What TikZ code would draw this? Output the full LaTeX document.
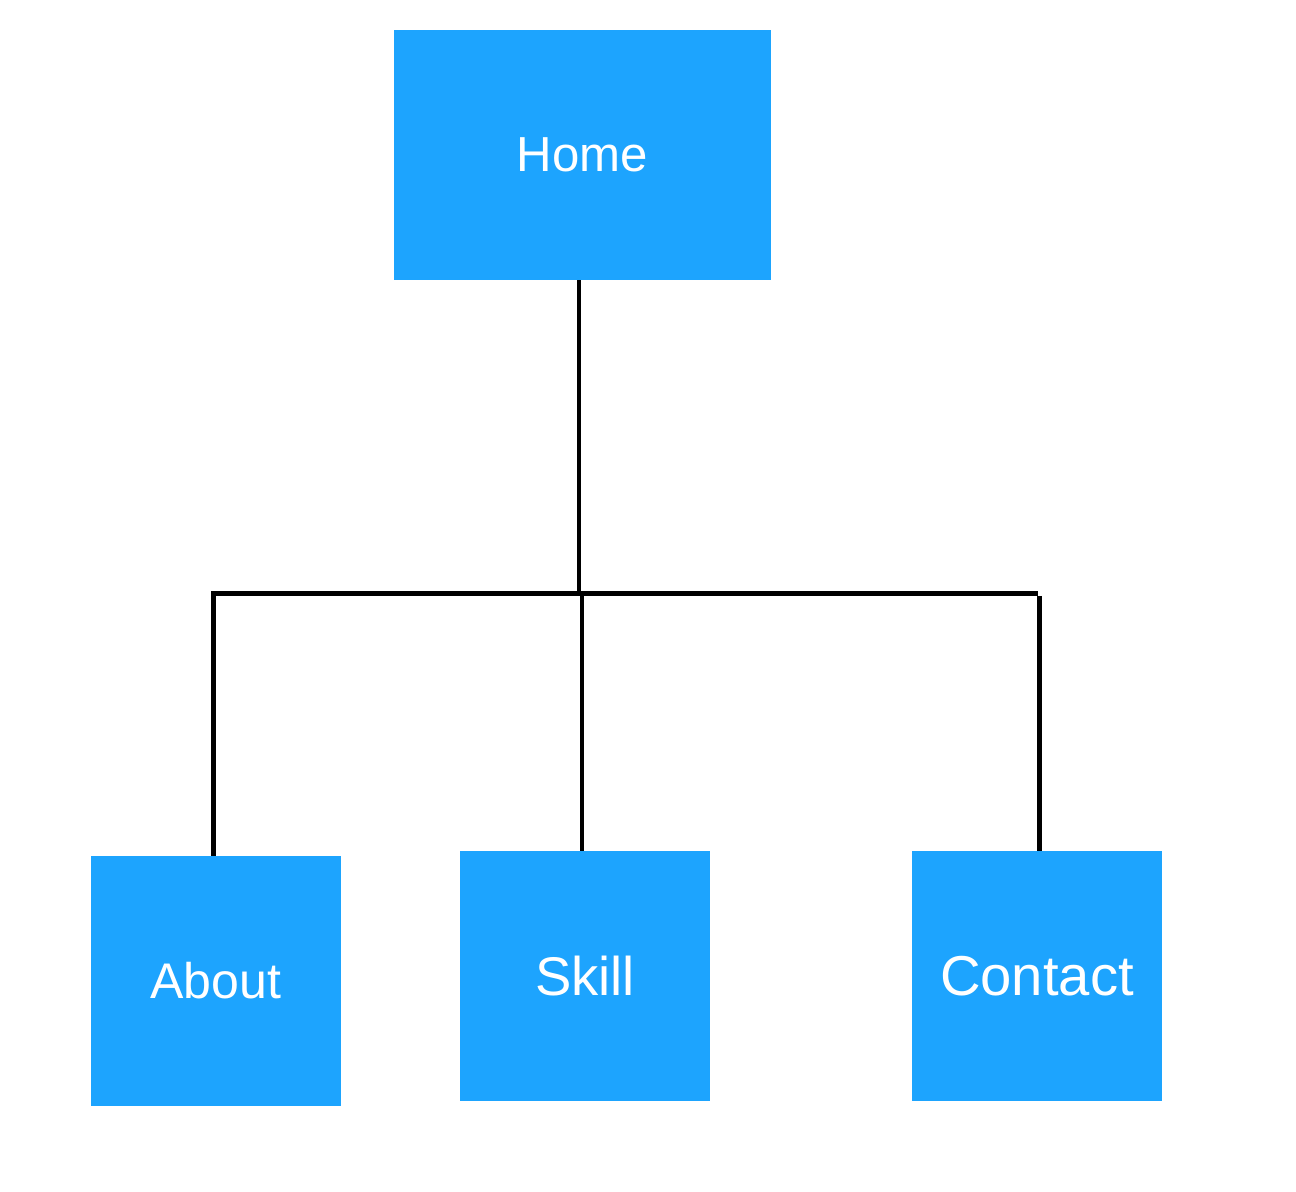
\documentclass[tikz,border=0pt]{standalone}
\usepackage{fontspec}
\setmainfont{Liberation Sans}
\usepackage{xcolor}
\definecolor{pageblue}{RGB}{29,164,254}
\tikzset{
  page/.style={fill=pageblue,text=white,inner sep=0pt,minimum width=5cm,minimum height=5cm},
  wire/.style={line width=2.8pt,black}
}

\begin{document}
\begin{tikzpicture}[x=0.02cm,y=-0.02cm]
\useasboundingbox (0,0) rectangle (1296,1192);

\node[page,minimum width=7.54cm] (home) at (582.5,155) {\fontsize{28}{30}\selectfont Home};
\node[page] (about) at (216,981) {\fontsize{28.5}{30}\selectfont About};
\node[page] (skill) at (585,976) {\fontsize{31}{33}\selectfont Skill};
\node[page] (contact) at (1037,976) {\fontsize{32}{34}\selectfont Contact};

\coordinate (busL) at (213.5,593.5);
\coordinate (hub) at (579,593.5);
\coordinate (busS) at (582,593.5);
\coordinate (busR) at (1038,593.5);
\coordinate (dropR) at (1039.5,596);

\draw[wire] (home.south -| hub) -- (hub);
\draw[wire] (busL |- about.north) -- (busL) -- (busR);
\draw[wire] (busS) -- (busS |- skill.north);
\draw[wire] (dropR) -- (dropR |- contact.north);
\end{tikzpicture}
\end{document}
